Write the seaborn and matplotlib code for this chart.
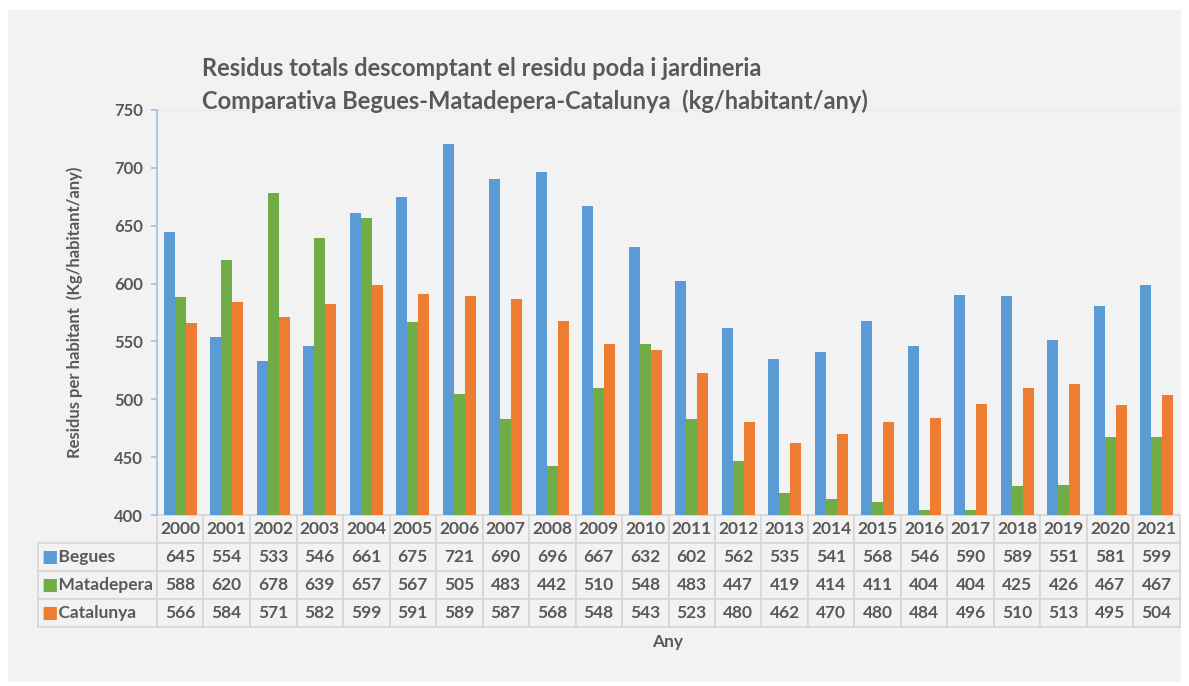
import numpy as np
import pandas as pd
import matplotlib
matplotlib.use("Agg")
import matplotlib.pyplot as plt
import seaborn as sns
from matplotlib.patches import Rectangle

years = [str(y) for y in range(2000, 2022)]
series = ["Begues", "Matadepera", "Catalunya"]
begues = [645, 554, 533, 546, 661, 675, 721, 690, 696, 667, 632, 602, 562, 535, 541, 568, 546, 590, 589, 551, 581, 599]
matadepera = [588, 620, 678, 639, 657, 567, 505, 483, 442, 510, 548, 483, 447, 419, 414, 411, 404, 404, 425, 426, 467, 467]
catalunya = [566, 584, 571, 582, 599, 591, 589, 587, 568, 548, 543, 523, 480, 462, 470, 480, 484, 496, 510, 513, 495, 504]
colors = ["#5B9BD5", "#70AD47", "#ED7D31"]
title = "Residus totals descomptant el residu poda i jardineria\nComparativa Begues-Matadepera-Catalunya  (kg/habitant/any)"
ylabel = "Residus per habitant  (Kg/habitant/any)"
xlabel = "Any"

sns.set_theme(style="white")
plt.rcParams['font.family'] = ['Lato', 'DejaVu Sans']

df = pd.DataFrame({
    "Any": years * 3,
    "Serie": sum([[s] * len(years) for s in series], []),
    "Valor": begues + matadepera + catalunya,
})

BG = "#f2f2f2"
TXT = "#595959"
fig = plt.figure(figsize=(11.89, 6.86), dpi=100, facecolor="white")
fig.patches.append(Rectangle((8/1189, 4/686), (1181-8)/1189, (676-4)/686,
                             transform=fig.transFigure, facecolor=BG, edgecolor="none", zorder=-10))
ax = fig.add_axes([157/1189, 1 - 515/686, 1023/1189, (515-110)/686])
ax.set_facecolor(BG)
ax.patch.set_alpha(0)

sns.barplot(data=df, x="Any", y="Valor", hue="Serie", palette=colors, width=0.72,
            ax=ax, legend=False, saturation=1, edgecolor="none")
ax.set_ylim(400, 750)
ax.set_yticks(range(400, 751, 50))
ax.set_xlim(-0.5, len(years) - 0.5)
ax.set_xticks([])
ax.set_xlabel("")
ax.set_ylabel("")
for s in ["top", "right", "bottom"]:
    ax.spines[s].set_visible(False)
ax.spines["left"].set_color("#9dc3e6")
ax.axhline(750, color="#e4e9f0", lw=1, zorder=0)
ax.tick_params(axis="y", left=True, length=4, color="#9dc3e6", labelsize=12, labelcolor=TXT, pad=6)
for t in ax.get_yticklabels():
    t.set_fontweight("bold")

# Data table
cell_text = [[""] + years]
for name, vals in zip(series, [begues, matadepera, catalunya]):
    cell_text.append(["  " + name] + [str(v) for v in vals])
axw = 1023
label_w = 119
col_w = axw / len(years)
widths = [label_w / (label_w + axw)] + [col_w / (label_w + axw)] * len(years)
tbl = ax.table(cellText=cell_text, colWidths=widths, cellLoc="center",
               bbox=[-label_w / axw, -112 / 405, (label_w + axw) / axw, 112 / 405])
tbl.auto_set_font_size(False)
tbl.set_fontsize(12.5)
for (r, c), cell in tbl.get_celld().items():
    cell.set_facecolor(BG)
    cell.set_edgecolor("#d6d6d6")
    cell.set_linewidth(1.2)
    cell.get_text().set_color(TXT)
    cell.get_text().set_fontweight("bold")
    if c == 0:
        cell.get_text().set_ha("left")
        cell._loc = "left"
        cell.PAD = 0.1
    if r == 0 and c == 0:
        cell.set_edgecolor(BG)
        cell.visible_edges = ""

# Colored squares for row labels
row_h = 112 / 4
for i, col in enumerate(colors):
    y_pix = 515 + row_h * (i + 1) + row_h / 2
    fig.text(41 / 1189, 1 - y_pix / 686, "■", color=col, fontsize=12.5, va="center", ha="left",
             family="DejaVu Sans")

fig.text(668 / 1189, 1 - 642 / 686, xlabel, ha="center", va="center", fontsize=12.5,
         fontweight="bold", color=TXT)
fig.text(75 / 1189, 1 - 312 / 686, ylabel, rotation=90, ha="center", va="center",
         fontsize=12, fontweight="bold", color=TXT)
fig.text(202 / 1189, 1 - 85 / 686, title, ha="left", va="center", fontsize=17,
         fontweight="bold", color=TXT, linespacing=1.45)

fig.savefig("out.png", dpi=100, facecolor="white")
